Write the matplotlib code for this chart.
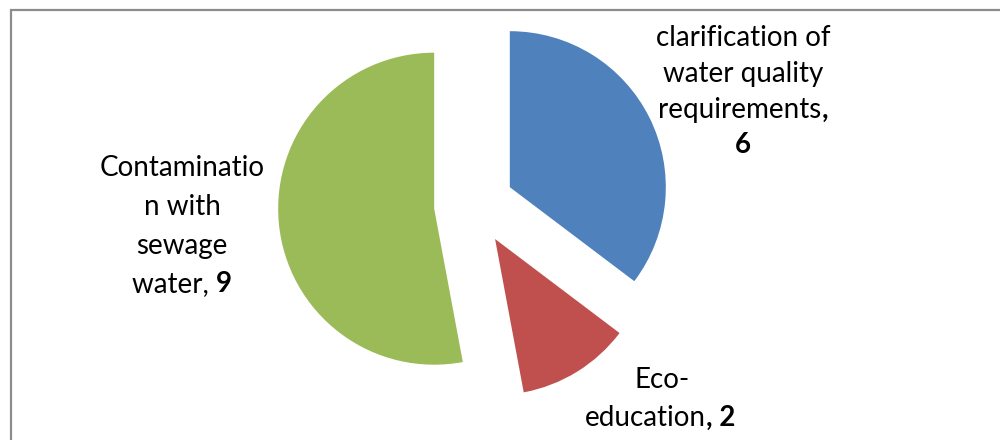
import matplotlib.pyplot as plt
from matplotlib.patches import Rectangle

# data
labels = ["clarification of water quality requirements", "Eco-education", "Contamination with sewage water"]
values = [6, 2, 9]
colors = ["#4F81BD", "#C0504D", "#9BBB59"]

W, H = 1000, 440
fig = plt.figure(figsize=(W / 100, H / 100), dpi=100)
ax = fig.add_axes([0, 0, 1, 1])

# pie in pixel units (y up); explode is in data units here
R = 156
ax.pie(values, colors=colors, startangle=90, counterclock=False,
       explode=[40] * 3, radius=R, center=(474, H - 205),
       wedgeprops=dict(linewidth=0))
ax.set_xlim(0, W)
ax.set_ylim(0, H)
ax.set_aspect("equal")
ax.axis("off")

# chart border
fig.patches.append(Rectangle((10.5 / W, -0.1), 1.2, (H - 10.5) / H + 0.1,
                             transform=fig.transFigure, fill=False,
                             edgecolor="#8c8c8c", linewidth=1.6))

FONT = "Lato"
FS = 20
fig.canvas.draw()
rend = fig.canvas.get_renderer()


def line(x, y, parts):
    # parts: list of (text, weight); line centred on x, y given from top
    objs = []
    for s, w in parts:
        t = ax.text(0, 0, s, fontsize=FS, family=FONT, weight=w,
                    ha="left", va="center", color="black")
        objs.append(t)
    widths = [t.get_window_extent(rend).width for t in objs]
    x0 = x - sum(widths) / 2
    for t, wd in zip(objs, widths):
        t.set_position((x0, H - y))
        x0 += wd


line(743, 38, [("clarification of", "normal")])
line(743, 74, [("water quality", "normal")])
line(743, 110, [("requirements", "normal"), (",", "bold")])
line(743, 145, [(str(values[0]), "bold")])

line(182, 168, [("Contaminatio", "normal")])
line(182, 207, [("n with", "normal")])
line(182, 246, [("sewage", "normal")])
line(182, 284, [("water, ", "normal"), (str(values[2]), "bold")])

line(662, 380, [("Eco-", "normal")])
line(660, 418, [("education", "normal"), (", " + str(values[1]), "bold")])

fig.savefig("out.png", dpi=100)
